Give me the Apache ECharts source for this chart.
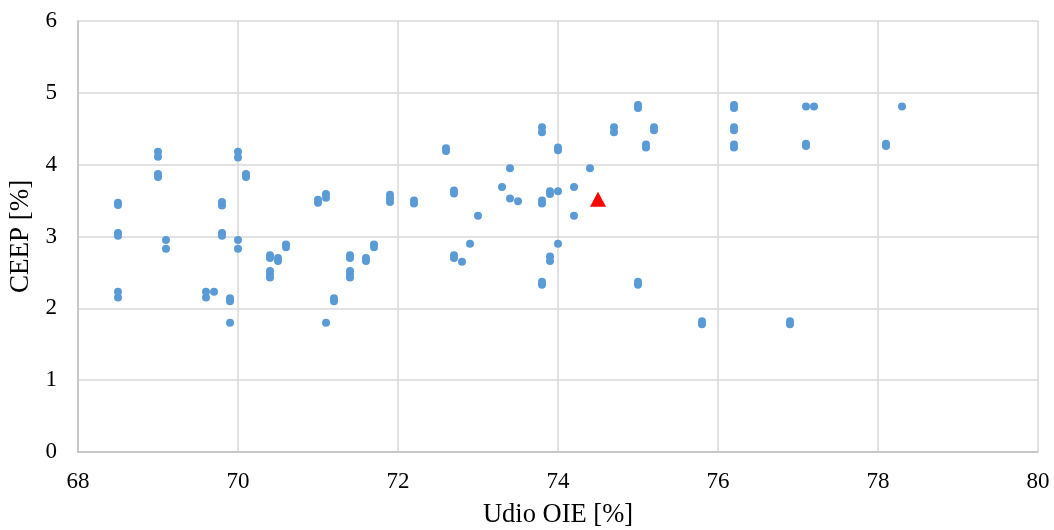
<!DOCTYPE html>
<html>
<head>
<meta charset="utf-8">
<script src="https://cdn.jsdelivr.net/npm/echarts@6/dist/echarts.min.js"></script>
<style>
html,body{margin:0;padding:0;background:#fff;}
#chart{width:1054px;height:530px;}
</style>
</head>
<body>
<div id="chart"></div>
<script>
var xTicks = [68, 70, 72, 74, 76, 78, 80];
var yTicks = [0, 1, 2, 3, 4, 5, 6];

var udioX = [
  68.5,68.5,68.5,68.5,68.5,68.5,
  69.0,69.0,69.0,69.0,
  69.1,69.1,
  69.6,69.6,
  69.7,
  69.8,69.8,69.8,69.8,
  69.9,69.9,69.9,
  70.0,70.0,70.0,70.0,
  70.1,70.1,
  70.4,70.4,70.4,70.4,70.4,
  70.5,70.5,
  70.6,70.6,
  71.0,71.0,
  71.1,71.1,71.1,
  71.2,71.2,
  71.4,71.4,71.4,71.4,71.4,
  71.6,71.6,
  71.7,71.7,
  71.9,71.9,71.9,
  72.2,72.2,
  72.6,72.6,
  72.7,72.7,72.7,72.7,
  72.8,
  72.9,
  73.0,
  73.3,
  73.4,73.4,
  73.5,
  73.8,73.8,73.8,73.8,73.8,73.8,
  73.9,73.9,73.9,73.9,
  74.0,74.0,74.0,74.0,
  74.2,74.2,
  74.4,
  74.7,74.7,
  75.0,75.0,75.0,75.0,
  75.1,75.1,
  75.2,75.2,
  75.8,75.8,
  76.2,76.2,76.2,76.2,76.2,76.2,
  76.9,76.9,
  77.1,77.1,77.1,
  77.2,
  78.1,78.1,
  78.3
];
var ceepY = [
  3.47,3.44,3.05,3.01,2.23,2.15,
  4.18,4.11,3.87,3.83,
  2.95,2.83,
  2.23,2.15,
  2.23,
  3.48,3.43,3.05,3.01,
  2.14,2.10,1.80,
  4.18,4.10,2.95,2.83,
  3.87,3.83,
  2.74,2.70,2.52,2.47,2.43,
  2.70,2.66,
  2.89,2.85,
  3.51,3.47,
  3.59,3.54,1.80,
  2.14,2.10,
  2.74,2.70,2.52,2.47,2.43,
  2.70,2.66,
  2.89,2.85,
  3.58,3.53,3.48,
  3.50,3.46,
  4.23,4.19,
  3.64,3.60,2.74,2.70,
  2.65,
  2.90,
  3.29,
  3.69,
  3.95,3.53,
  3.49,
  4.52,4.45,3.50,3.46,2.37,2.33,
  3.63,3.59,2.72,2.66,
  4.24,4.20,3.63,2.90,
  3.69,3.29,
  3.95,
  4.52,4.45,
  4.83,4.79,2.37,2.33,
  4.28,4.24,
  4.52,4.48,
  1.82,1.78,
  4.83,4.79,4.52,4.48,4.28,4.24,
  1.82,1.78,
  4.81,4.29,4.26,
  4.81,
  4.29,4.26,
  4.81
];
var highlightX = [74.5];
var highlightY = [3.52];

function pairs(xs, ys) {
  var out = [];
  for (var i = 0; i < xs.length; i++) out.push([xs[i], ys[i]]);
  return out;
}

var serif = '"Liberation Serif","Times New Roman",serif';
var chart = echarts.init(document.getElementById('chart'), null, {renderer: 'canvas'});
chart.setOption({
  animation: false,
  backgroundColor: '#ffffff',
  grid: {left: 78, right: 16, top: 21, bottom: 78, containLabel: false, outerBoundsMode: 'none'},
  xAxis: {
    type: 'value',
    min: xTicks[0], max: xTicks[xTicks.length - 1], interval: 2,
    name: 'Udio OIE [%]',
    nameLocation: 'middle',
    nameGap: 50,
    nameTextStyle: {fontFamily: serif, fontSize: 26.5, color: '#000'},
    axisLine: {show: true, lineStyle: {color: '#bfbfbf', width: 1.5}},
    axisTick: {show: false},
    axisLabel: {fontFamily: serif, fontSize: 23, color: '#000', margin: 18},
    splitLine: {show: true, lineStyle: {color: '#d9d9d9', width: 1.5}}
  },
  yAxis: {
    type: 'value',
    min: yTicks[0], max: yTicks[yTicks.length - 1], interval: 1,
    name: 'CEEP [%]',
    nameLocation: 'middle',
    nameGap: 43,
    nameRotate: 90,
    nameTextStyle: {fontFamily: serif, fontSize: 27, color: '#000'},
    axisLine: {show: true, lineStyle: {color: '#bfbfbf', width: 1.5}},
    axisTick: {show: false},
    axisLabel: {fontFamily: serif, fontSize: 23, color: '#000', margin: 21},
    splitLine: {show: true, lineStyle: {color: '#d9d9d9', width: 1.5}}
  },
  series: [
    {
      type: 'scatter',
      data: pairs(udioX, ceepY),
      symbol: 'circle',
      symbolSize: 8,
      itemStyle: {color: '#5b9bd5', opacity: 1}
    },
    {
      type: 'scatter',
      data: pairs(highlightX, highlightY),
      symbol: 'triangle',
      symbolSize: [16, 15],
      itemStyle: {color: '#ff0000', opacity: 1},
      z: 3
    }
  ]
});
</script>
</body>
</html>
